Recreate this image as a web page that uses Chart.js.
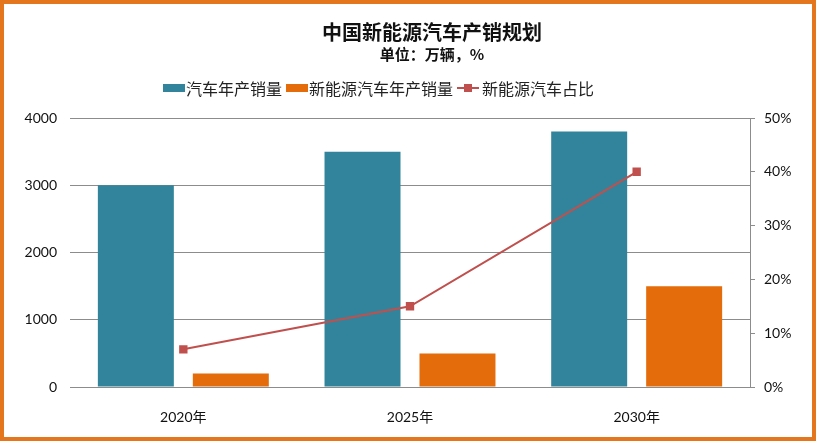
<!DOCTYPE html>
<html>
<head>
<meta charset="utf-8">
<script src="https://cdn.jsdelivr.net/npm/chart.js@4/dist/chart.umd.min.js"></script>
<style>
    body { margin: 0; background: #fff; }
    #wrap { position: relative; width: 816px; height: 441px; overflow: hidden; font-family: "Noto Sans CJK SC", sans-serif; }
    #chart { position: absolute; left: 0; top: 0; }
    #frame { position: absolute; left: 0; top: 0; width: 816px; height: 441px; box-sizing: border-box; border: 4px solid #E4761E; pointer-events: none; }
    .title { position: absolute; left: 432px; transform: translateX(-50%); white-space: nowrap; font-weight: bold; color: #111; }
    #legend { position: absolute; left: 163px; top: 78px; height: 20px; display: flex; align-items: center; font-size: 16px; color: #222; white-space: nowrap; }
    #legend .box { display: inline-block; width: 22px; height: 8px; margin-right: 1px; }
    #legend .item { display: flex; align-items: center; margin-right: 4px; }
    #legend .lineIcon { position: relative; width: 22px; height: 9px; margin-right: 3px; }
    #legend .lineIcon::before { content: ""; position: absolute; left: 0; right: 0; top: 3px; height: 2px; background: #C0504D; }
    #legend .lineIcon::after { content: ""; position: absolute; left: 7px; top: 0; width: 8px; height: 8px; background: #C0504D; }
</style>
</head>
<body>
<div id="wrap">
    <canvas id="chart" width="816" height="441"></canvas>
    <div class="title" style="top: 17px; font-size: 20px;">中国新能源汽车产销规划</div>
    <div class="title" style="top: 43px; font-size: 15px;">单位：万辆，%</div>
    <div id="legend">
        <span class="item"><span class="box" style="background:#31849B"></span>汽车年产销量</span>
        <span class="item"><span class="box" style="background:#E46C0A"></span>新能源汽车年产销量</span>
        <span class="item"><span class="lineIcon"></span>新能源汽车占比</span>
    </div>
    <div id="frame"></div>
</div>
<script>
// data
const years = ['2020年', '2025年', '2030年'];
const totalSales = [3000, 3500, 3800];     // 汽车年产销量 (万辆)
const nevSales = [200, 500, 1500];         // 新能源汽车年产销量 (万辆)
const nevShare = [7, 15, 40];              // 新能源汽车占比 (%)
const leftTicks = [0, 1000, 2000, 3000, 4000];
const rightTicks = [0, 10, 20, 30, 40, 50];

const axisGray = '#8C8C8C';
const tickFont = { family: 'Lato, "Noto Sans CJK SC", sans-serif', size: 14 };

const ctx = document.getElementById('chart').getContext('2d');
new Chart(ctx, {
    type: 'bar',
    data: {
        labels: years,
        datasets: [
            {
                type: 'line',
                label: '新能源汽车占比',
                data: nevShare,
                yAxisID: 'y1',
                borderColor: '#C0504D',
                backgroundColor: '#C0504D',
                borderWidth: 2,
                pointStyle: 'rect',
                pointRadius: 4.5,
                pointHoverRadius: 4.5,
                tension: 0,
                order: 0
            },
            {
                label: '汽车年产销量',
                data: totalSales,
                yAxisID: 'y',
                backgroundColor: '#31849B',
                categoryPercentage: 0.838,
                barPercentage: 0.8,
                order: 1
            },
            {
                label: '新能源汽车年产销量',
                data: nevSales,
                yAxisID: 'y',
                backgroundColor: '#E46C0A',
                categoryPercentage: 0.838,
                barPercentage: 0.8,
                order: 1
            }
        ]
    },
    options: {
        responsive: false,
        animation: false,
        layout: { padding: { top: 118, left: 0, right: 0, bottom: 0 } },
        plugins: {
            legend: { display: false },
            title: { display: false },
            tooltip: { enabled: false }
        },
        scales: {
            x: {
                grid: { display: false },
                border: { display: true, color: axisGray, width: 1 },
                ticks: { color: '#111', font: tickFont, padding: 14, maxRotation: 0 },
                afterFit: axis => { axis.height = 54; }
            },
            y: {
                position: 'left',
                min: 0,
                max: 4000,
                afterBuildTicks: axis => { axis.ticks = leftTicks.map(v => ({ value: v })); },
                grid: { color: axisGray, drawTicks: false, lineWidth: 1 },
                border: { display: false },
                ticks: { color: '#111', font: tickFont, padding: 13, callback: v => String(v) },
                afterFit: axis => { axis.width = 70; }
            },
            y1: {
                position: 'right',
                min: 0,
                max: 50,
                afterBuildTicks: axis => { axis.ticks = rightTicks.map(v => ({ value: v })); },
                grid: { drawOnChartArea: false, drawTicks: true, tickLength: 5, color: axisGray },
                border: { display: true, color: axisGray, width: 1 },
                ticks: { color: '#111', font: tickFont, padding: 9, callback: v => v + '%' },
                afterFit: axis => { axis.width = 66; }
            }
        }
    }
});
</script>
</body>
</html>
